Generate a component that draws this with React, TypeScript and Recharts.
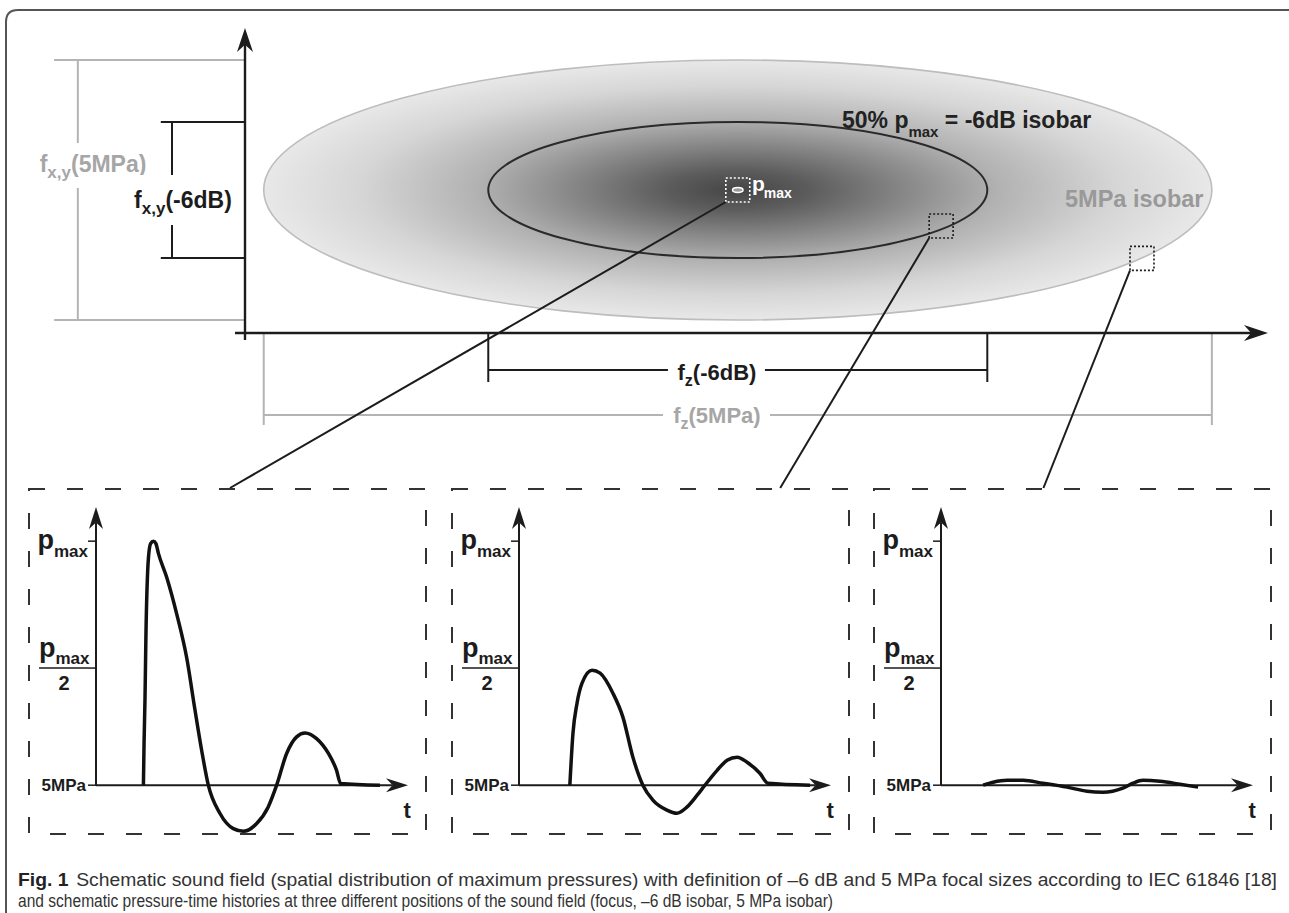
import React from "react";
import {
  ComposedChart,
  LineChart,
  Line,
  XAxis,
  YAxis,
  ReferenceArea,
  ReferenceLine,
  ReferenceDot,
} from "recharts";

const FONT = '"Liberation Sans", Arial, Helvetica, sans-serif';
const CAPTION_FONT = '"Liberation Sans Narrow", "Liberation Sans", Arial, sans-serif';
const INK = "#1c1c1c";
const GREY = "#b4b4b4";
const GREY_TEXT = "#a6a6a6";

// sound field, mm: z along the beam, xy lateral
const zDomain = [0, 82];
const xyDomain = [0, 15.25];
const focusZ = 39.5;
const focusXY = 7.15;
const isobarNames = ["5MPa", "-6dB"];
const isobarHalfZ = [38, 20];
const isobarHalfXY = [6.5, 3.4];

// where the three pressure-time histories are taken
const probeZ = [39.5, 55.8, 71.9];
const probeXY = [7.15, 5.35, 3.73];
const panelLinkZ = [-1.2, 42.9, 64.0];

// pressure histories (t arbitrary, p relative to p_max, 0 = 5 MPa line)
const focusT = [15.2, 15.4, 15.7, 16.0, 16.8, 17.5, 18.4, 19.2, 20.0, 22.7, 25.9, 29.1, 31.7, 33.9, 36.0, 39.7, 44.0, 47.2, 51.5, 55.2, 57.9, 61.1, 64.3, 67.0, 70.7, 74.5, 77.1, 78.4, 91.0];
const focusP = [0, 0.17, 0.35, 0.61, 0.93, 0.99, 1.0, 0.99, 0.95, 0.85, 0.7, 0.52, 0.31, 0.14, 0, -0.115, -0.178, -0.189, -0.157, -0.089, 0, 0.13, 0.198, 0.214, 0.191, 0.13, 0.061, 0.007, 0];
const sixDbT = [16.3, 17.3, 18.6, 20.2, 23.4, 26.0, 30.1, 33.3, 36.5, 39.7, 42.9, 47.4, 50.6, 53.8, 57.1, 59.6, 63.5, 66.7, 69.9, 73.1, 77.2, 79.8, 93.3];
const sixDbP = [0, 0.213, 0.336, 0.418, 0.471, 0.459, 0.377, 0.279, 0.115, 0, -0.061, -0.102, -0.115, -0.09, -0.041, 0, 0.061, 0.102, 0.115, 0.094, 0.049, 0.008, 0];
const fiveMpaT = [13.5, 16.7, 21.2, 26.3, 32.7, 40.4, 46.8, 51.9, 58.3, 61.5, 64.7, 70.2, 76.6, 82.4];
const fiveMpaP = [0, 0.012, 0.02, 0.02, 0.008, -0.008, -0.025, -0.029, -0.012, 0.008, 0.02, 0.016, 0.004, -0.008];

const pressureTicks = [0, 0.48, 1];
const pressureTickLabels = ["5MPa", "pmax/2", "pmax"];

// layout of the dimension lines, in field coordinates
const LATERAL_DIM_Z = [-13.4, -5.85];
const LATERAL_EXT_Z = [-15.3, -6.75];
const AXIAL_DIM_XY = [-4.1, -1.85];
const AXIAL_EXT_XY = [-4.6, -2.45];
const PANEL_TOP_XY = -7.75;
const PROBE_HALF = [0.96, 0.6];

function arrowShape(color: string, width: number, len: number, half: number) {
  return (p: any) => {
    const { x1, y1, x2, y2 } = p;
    const a = Math.atan2(y2 - y1, x2 - x1);
    const c = Math.cos(a);
    const s = Math.sin(a);
    const notch = len * 0.7;
    const pt = (u: number, v: number) => `${x2 + u * c - v * s},${y2 + u * s + v * c}`;
    return (
      <g>
        <line x1={x1} y1={y1} x2={x2 - notch * c} y2={y2 - notch * s} stroke={color} strokeWidth={width} />
        <path d={`M${pt(0, 0)} L${pt(-len, -half)} L${pt(-notch, 0)} L${pt(-len, half)} Z`} fill={color} />
      </g>
    );
  };
}

const plainLine = (color: string, width: number) => (p: any) => (
  <line x1={p.x1} y1={p.y1} x2={p.x2} y2={p.y2} stroke={color} strokeWidth={width} />
);

const ellipseShape = (fill: string, stroke: string, sw: number) => (p: any) => (
  <ellipse
    cx={p.x + p.width / 2}
    cy={p.y + p.height / 2}
    rx={Math.abs(p.width) / 2}
    ry={Math.abs(p.height) / 2}
    fill={fill}
    stroke={stroke}
    strokeWidth={sw}
  />
);

const dottedBox = (color: string) => (p: any) => (
  <rect x={p.x} y={p.y} width={p.width} height={p.height} fill="none" stroke={color} strokeWidth={1.6} strokeDasharray="2 2" />
);

function tag(node: React.ReactNode, color: string, anchor: string, gap?: number[]) {
  return (p: any) => (
    <g>
      {gap && <rect x={p.cx + gap[0]} y={p.cy + gap[1]} width={gap[2]} height={gap[3]} fill="#fff" />}
      <text x={p.cx} y={p.cy} textAnchor={anchor} fontFamily={FONT} fontWeight={700} fill={color} style={{ whiteSpace: "pre" }}>
        {node}
      </text>
    </g>
  );
}

function SoundField() {
  const isoColor = [GREY, INK];
  return (
    <ComposedChart width={1289} height={913} margin={{ top: 28, right: 21, bottom: 580, left: 245 }}>
      <XAxis type="number" dataKey="z" domain={zDomain} allowDataOverflow hide />
      <YAxis type="number" dataKey="xy" domain={xyDomain} allowDataOverflow hide />

      {isobarNames.map((n, i) => (
        <ReferenceArea
          key={n}
          x1={focusZ - isobarHalfZ[i]}
          x2={focusZ + isobarHalfZ[i]}
          y1={focusXY - isobarHalfXY[i]}
          y2={focusXY + isobarHalfXY[i]}
          shape={i === 0 ? ellipseShape("url(#field)", "#bdbdbd", 1.6) : ellipseShape("none", "#2a2a2a", 2)}
        />
      ))}
      <ReferenceArea
        x1={focusZ - 0.42}
        x2={focusZ + 0.42}
        y1={focusXY - 0.12}
        y2={focusXY + 0.12}
        shape={ellipseShape("#9a9a9a", "#fff", 1.5)}
      />
      {probeZ.map((z, i) => (
        <ReferenceArea
          key={"probe" + i}
          x1={z - PROBE_HALF[0]}
          x2={z + PROBE_HALF[0]}
          y1={probeXY[i] - PROBE_HALF[1]}
          y2={probeXY[i] + PROBE_HALF[1]}
          shape={dottedBox(i === 0 ? "#fff" : INK)}
        />
      ))}

      {/* lateral focal size */}
      {isobarNames.map((n, i) => [
        <ReferenceLine
          key={n + "a"}
          ifOverflow="visible"
          segment={[{ x: LATERAL_EXT_Z[i], y: focusXY + isobarHalfXY[i] }, { x: 0, y: focusXY + isobarHalfXY[i] }]}
          shape={plainLine(isoColor[i], 2)}
        />,
        <ReferenceLine
          key={n + "b"}
          ifOverflow="visible"
          segment={[{ x: LATERAL_EXT_Z[i], y: focusXY - isobarHalfXY[i] }, { x: 0, y: focusXY - isobarHalfXY[i] }]}
          shape={plainLine(isoColor[i], 2)}
        />,
        <ReferenceLine
          key={n + "c"}
          ifOverflow="visible"
          segment={[{ x: LATERAL_DIM_Z[i], y: focusXY - isobarHalfXY[i] }, { x: LATERAL_DIM_Z[i], y: focusXY + isobarHalfXY[i] }]}
          shape={plainLine(isoColor[i], 2)}
        />,
      ])}

      {/* axial focal size */}
      {isobarNames.map((n, i) => [
        <ReferenceLine
          key={n + "d"}
          ifOverflow="visible"
          segment={[{ x: focusZ - isobarHalfZ[i], y: 0 }, { x: focusZ - isobarHalfZ[i], y: AXIAL_EXT_XY[i] }]}
          shape={plainLine(isoColor[i], 2)}
        />,
        <ReferenceLine
          key={n + "e"}
          ifOverflow="visible"
          segment={[{ x: focusZ + isobarHalfZ[i], y: 0 }, { x: focusZ + isobarHalfZ[i], y: AXIAL_EXT_XY[i] }]}
          shape={plainLine(isoColor[i], 2)}
        />,
        <ReferenceLine
          key={n + "f"}
          ifOverflow="visible"
          segment={[{ x: focusZ - isobarHalfZ[i], y: AXIAL_DIM_XY[i] }, { x: focusZ + isobarHalfZ[i], y: AXIAL_DIM_XY[i] }]}
          shape={plainLine(isoColor[i], 2)}
        />,
      ])}

      {/* axes */}
      <ReferenceLine ifOverflow="visible" segment={[{ x: -0.8, y: 0 }, { x: 82, y: 0 }]} shape={arrowShape(INK, 2.4, 24, 8)} />
      <ReferenceLine ifOverflow="visible" segment={[{ x: 0, y: -0.35 }, { x: 0, y: 15.25 }]} shape={arrowShape(INK, 2.4, 24, 8)} />

      {/* leaders to the time histories */}
      {probeZ.map((z, i) => (
        <ReferenceLine
          key={"lead" + i}
          ifOverflow="visible"
          segment={[{ x: z - PROBE_HALF[0], y: probeXY[i] - PROBE_HALF[1] }, { x: panelLinkZ[i], y: PANEL_TOP_XY }]}
          shape={plainLine(INK, 2)}
        />
      ))}

      {/* labels */}
      <ReferenceDot
        x={47.85}
        y={10.25}
        r={0}
        ifOverflow="visible"
        shape={tag(
          <>
            <tspan fontSize={23}>50% p</tspan>
            <tspan fontSize={15} dy={9}>max</tspan>
            <tspan fontSize={23} dy={-9}>{" = -6dB isobar"}</tspan>
          </>,
          "#222",
          "start"
        )}
      />
      <ReferenceDot
        x={65.73}
        y={6.3}
        r={0}
        ifOverflow="visible"
        shape={tag(<tspan fontSize={23.5}>5MPa isobar</tspan>, "#999", "start")}
      />
      <ReferenceDot
        x={40.64}
        y={7.1}
        r={0}
        ifOverflow="visible"
        shape={tag(
          <>
            <tspan fontSize={21}>p</tspan>
            <tspan fontSize={14} dx={-1} dy={7}>max</tspan>
          </>,
          "#fff",
          "start"
        )}
      />
      <ReferenceDot
        x={-12.18}
        y={8.05}
        r={0}
        ifOverflow="visible"
        shape={tag(
          <>
            <tspan fontSize={23}>f</tspan>
            <tspan fontSize={17} dy={6}>x,y</tspan>
            <tspan fontSize={23} dy={-6}>(5MPa)</tspan>
          </>,
          GREY_TEXT,
          "middle",
          [-60, -29, 120, 45]
        )}
      />
      <ReferenceDot
        x={-4.97}
        y={6.25}
        r={0}
        ifOverflow="visible"
        shape={tag(
          <>
            <tspan fontSize={23}>f</tspan>
            <tspan fontSize={17} dy={6}>x,y</tspan>
            <tspan fontSize={23} dy={-6}>(-6dB)</tspan>
          </>,
          INK,
          "middle",
          [-56, -33, 112, 50]
        )}
      />
      <ReferenceDot
        x={37.83}
        y={-2.35}
        r={0}
        ifOverflow="visible"
        shape={tag(
          <>
            <tspan fontSize={22}>f</tspan>
            <tspan fontSize={16} dy={6}>z</tspan>
            <tspan fontSize={22} dy={-6}>(-6dB)</tspan>
          </>,
          INK,
          "middle",
          [-49, -20, 97, 24]
        )}
      />
      <ReferenceDot
        x={37.83}
        y={-4.5}
        r={0}
        ifOverflow="visible"
        shape={tag(
          <>
            <tspan fontSize={22}>f</tspan>
            <tspan fontSize={16} dy={6}>z</tspan>
            <tspan fontSize={22} dy={-6}>(5MPa)</tspan>
          </>,
          GREY_TEXT,
          "middle",
          [-54, -18, 107, 24]
        )}
      />
    </ComposedChart>
  );
}

function PressureTick(props: any) {
  const { x, y, payload } = props;
  const label = pressureTickLabels[pressureTicks.indexOf(payload.value)];
  const common = { fontFamily: FONT, fontWeight: 700, fill: INK };
  if (label === "5MPa") {
    return (
      <text x={x - 2} y={y + 6} textAnchor="end" fontSize={17} {...common}>
        5MPa
      </text>
    );
  }
  if (label === "pmax") {
    return (
      <text x={x} y={y + 8} textAnchor="end" {...common}>
        <tspan fontSize={27}>p</tspan>
        <tspan fontSize={17} dy={8}>max</tspan>
      </text>
    );
  }
  return (
    <g>
      <text x={x - 49} y={y - 11} textAnchor="start" {...common}>
        <tspan fontSize={27}>p</tspan>
        <tspan fontSize={17} dy={7}>max</tspan>
      </text>
      <line x1={x - 49} x2={x} y1={y} y2={y} stroke={INK} strokeWidth={1.5} />
      <text x={x - 24} y={y + 22} textAnchor="middle" fontSize={20} {...common}>
        2
      </text>
    </g>
  );
}

function PressurePanel({ t, p, left }: { t: number[]; p: number[]; left: number }) {
  const data = t.map((tt, i) => ({ t: tt, p: p[i] }));
  return (
    <div style={{ position: "absolute", left, top: 488, width: 399, height: 347 }}>
      <svg width={399} height={347} style={{ position: "absolute", left: 0, top: 0 }}>
        <rect x={1} y={1} width={397} height={345} fill="none" stroke="#333" strokeWidth={2} strokeDasharray="16 22" />
      </svg>
      <div style={{ position: "absolute", left: 0, top: 0 }}>
        <LineChart width={399} height={347} data={data} margin={{ top: 19, right: 19, bottom: 1, left: 0 }}>
          <XAxis type="number" dataKey="t" domain={[0, 100]} allowDataOverflow hide />
          <YAxis
            type="number"
            domain={[-0.2, 1.14]}
            allowDataOverflow
            ticks={pressureTicks}
            interval={0}
            width={68}
            axisLine={false}
            tickSize={8}
            tickMargin={0}
            tickLine={{ stroke: INK, strokeWidth: 1.5 }}
            tick={(tp: any) => <PressureTick {...tp} />}
          />
          <ReferenceLine ifOverflow="visible" segment={[{ x: 0, y: 0 }, { x: 100, y: 0 }]} shape={arrowShape(INK, 2, 22, 7)} />
          <ReferenceLine ifOverflow="visible" segment={[{ x: 0, y: 0 }, { x: 0, y: 1.14 }]} shape={arrowShape(INK, 2, 22, 7)} />
          <Line type="monotone" dataKey="p" stroke="#111" strokeWidth={3.5} dot={false} isAnimationActive={false} />
          <ReferenceDot
            x={99.7}
            y={-0.135}
            r={0}
            ifOverflow="visible"
            shape={tag(<tspan fontSize={22}>t</tspan>, INK, "middle")}
          />
        </LineChart>
      </div>
    </div>
  );
}

export default function App() {
  return (
    <div style={{ position: "absolute", left: 0, top: 0, width: 1289, height: 913, background: "#fff", overflow: "hidden" }}>
      <svg width={1289} height={913} style={{ position: "absolute", left: 0, top: 0 }}>
        <defs>
          <radialGradient id="field" cx="50%" cy="50%" r="50%">
            <stop offset="0" stopColor="#454545" />
            <stop offset="0.15" stopColor="#5c5c5c" />
            <stop offset="0.35" stopColor="#878787" />
            <stop offset="0.55" stopColor="#b2b2b2" />
            <stop offset="0.8" stopColor="#d6d6d6" />
            <stop offset="1" stopColor="#e8e8e8" />
          </radialGradient>
        </defs>
        <path d="M6 913 V22 Q6 10 18 10 H1289" fill="none" stroke="#555" strokeWidth={2} />
        <text x={18} y={886} fontFamily={CAPTION_FONT} fontSize={17.5} fill="#333" textLength={1259} lengthAdjust="spacingAndGlyphs">
          <tspan fontWeight={700} fill="#222">Fig. 1</tspan>
          <tspan dx={7}>
            Schematic sound field (spatial distribution of maximum pressures) with definition of –6 dB and 5 MPa focal sizes according to IEC 61846 [18]
          </tspan>
        </text>
        <text x={18} y={907} fontFamily={CAPTION_FONT} fontSize={17.5} fill="#333" textLength={815} lengthAdjust="spacingAndGlyphs">
          and schematic pressure-time histories at three different positions of the sound field (focus, –6 dB isobar, 5 MPa isobar)
        </text>
      </svg>
      <div style={{ position: "absolute", left: 0, top: 0 }}>
        <SoundField />
      </div>
      <PressurePanel t={focusT} p={focusP} left={28} />
      <PressurePanel t={sixDbT} p={sixDbP} left={451} />
      <PressurePanel t={fiveMpaT} p={fiveMpaP} left={873} />
    </div>
  );
}
